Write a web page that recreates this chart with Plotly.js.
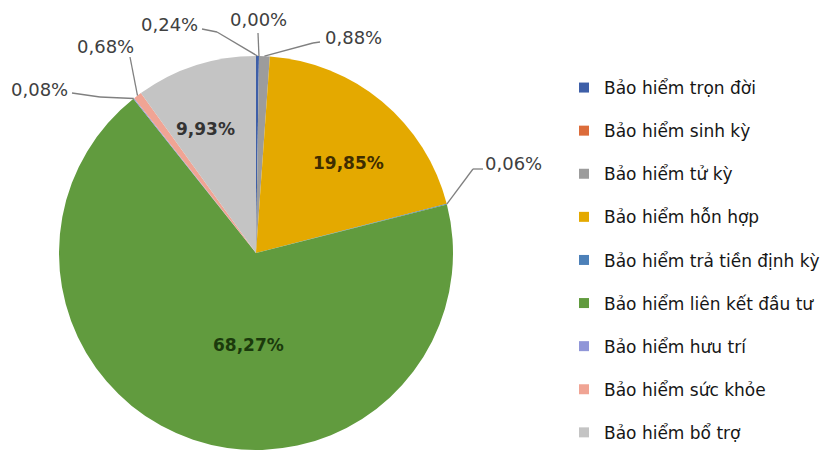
<!DOCTYPE html>
<html><head><meta charset="utf-8">
<script src="https://cdn.plot.ly/plotly-3.0.1.min.js"></script>
<style>html,body{margin:0;padding:0;background:#fff;overflow:hidden}#chart{width:829px;height:450px}</style>
</head><body><div id="chart"></div>
<script>
// ---- data ----
const categories = ["Bảo hiểm trọn đời","Bảo hiểm sinh kỳ","Bảo hiểm tử kỳ","Bảo hiểm hỗn hợp","Bảo hiểm trả tiền định kỳ","Bảo hiểm liên kết đầu tư","Bảo hiểm hưu trí","Bảo hiểm sức khỏe","Bảo hiểm bổ trợ"];
const shares = [0.24, 0.00, 0.88, 19.85, 0.06, 68.27, 0.08, 0.68, 9.93];

// ---- styles / layout ----
const colors = ["#3E5FA8","#DC6C3A","#9C9C9C","#E4A900","#4C80B8","#619B3E","#9096D8","#F0A494","#C4C4C4"];
const W = 829, H = 450, CX = 256, CY = 253, R = 197;
// label placement in pixels: [labelX, labelY, lineStartX, lineStartY, elbowX, elbowY, inside?, textColor]
const labelPlace = [
  [169, 24, 202, 29, 217, 32, false, "#404040"],
  [258, 20, 258, 33, 258, 33, false, "#404040"],
  [353, 38, 320, 42, 313, 43, false, "#404040"],
  [348, 163, 0, 0, 0, 0, true, "#3f2d00"],
  [513, 163, 483, 169, 473, 169, false, "#404040"],
  [248, 345, 0, 0, 0, 0, true, "#1b3a0c"],
  [39, 90, 72, 93, 100, 97, false, "#404040"],
  [105, 46, 130, 57, 130, 57, false, "#404040"],
  [205, 129, 0, 0, 0, 0, true, "#333333"]
];

const total = shares.reduce((a,b)=>a+b,0);
function edgePoint(i){
  let before = 0; for(let k=0;k<i;k++) before += shares[k];
  const mid = (before + shares[i]/2)/total*2*Math.PI;
  return [CX + R*Math.sin(mid), CY - R*Math.cos(mid)];
}
const px = x => x/W, py = y => 1 - y/H;

const annotations = [], shapes = [];
shares.forEach((v,i)=>{
  const p = labelPlace[i];
  annotations.push({
    xref:'paper', yref:'paper', x:px(p[0]), y:py(p[1]), xanchor:'center', yanchor:'middle',
    text: v.toFixed(2).replace('.', ',') + '%', showarrow:false,
    font:{family:'DejaVu Sans', size: p[6] ? 17 : 18, color:p[7], weight: p[6] ? 'bold' : 'normal'}
  });
  if(!p[6]){
    const e = edgePoint(i);
    const line = {color:'#808080', width:1.3};
    if(p[2]!==p[4] || p[3]!==p[5]) shapes.push({type:'line', xref:'paper', yref:'paper', x0:px(p[2]), y0:py(p[3]), x1:px(p[4]), y1:py(p[5]), line});
    shapes.push({type:'line', xref:'paper', yref:'paper', x0:px(p[4]), y0:py(p[5]), x1:px(e[0]), y1:py(e[1]), line});
  }
});

const pie = {
  type:'pie', labels:categories, values:shares, sort:false, direction:'clockwise', rotation:0,
  marker:{colors:colors, line:{width:0}}, textinfo:'none', hoverinfo:'label+percent', showlegend:false,
  domain:{x:[(CX-R)/W, (CX+R)/W], y:[(H-(CY+R))/H, (H-(CY-R))/H]}
};
const legendTraces = categories.map((c,i)=>({
  type:'scatter', x:[null], y:[null], mode:'markers', name:c, legendgroup:'g'+i,
  marker:{symbol:'square', size:10, color:colors[i]}, hoverinfo:'skip', showlegend:true
}));

const layout = {
  width:W, height:H, autosize:false, margin:{l:0,r:0,t:0,b:0,autoexpand:false},
  paper_bgcolor:'#ffffff', plot_bgcolor:'#ffffff',
  xaxis:{visible:false, fixedrange:true}, yaxis:{visible:false, fixedrange:true},
  showlegend:true,
  legend:{x:564/W, xanchor:'left', y:1-70/H, yanchor:'top', tracegroupgap:18,
    font:{family:'DejaVu Sans', size:17, color:'#161616'}, bgcolor:'rgba(0,0,0,0)', borderwidth:0},
  annotations, shapes
};
Plotly.newPlot('chart', [pie, ...legendTraces], layout, {displayModeBar:false, staticPlot:true});
</script></body></html>
